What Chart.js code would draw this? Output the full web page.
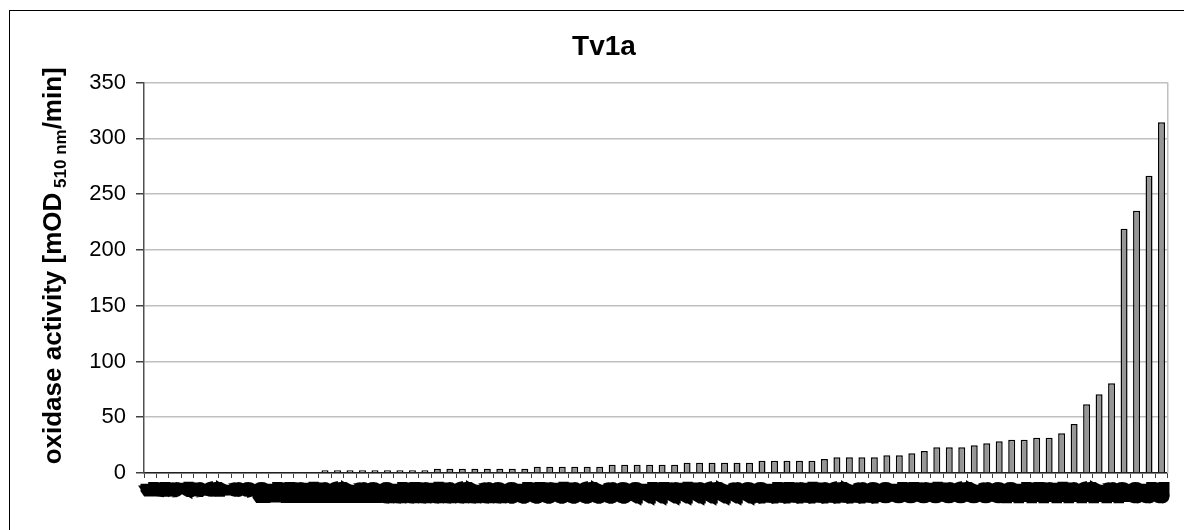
<!DOCTYPE html>
<html lang="en">
<head>
    <meta charset="UTF-8">
    <title>Tv1a</title>
    <script src="https://cdn.jsdelivr.net/npm/chart.js"></script>
    <style>
        html, body { margin: 0; padding: 0; background: #fff; overflow: hidden; }
        #frame { position: absolute; left: 9px; top: 10px; width: 1300px; height: 700px;
                 border-left: 1.5px solid #000; border-top: 1.5px solid #000; }
        #wrap { position: absolute; left: 0; top: 0; width: 1184px; height: 530px; }
    </style>
</head>
<body>
    <div id="frame"></div>
    <div id="wrap"><canvas id="barChart"></canvas></div>

    <script>
        // clone labels (rendered as a dense, unreadable strip in the original)
        var clones = ["1","2","3","4","5","6","7","8","9","10","11","12","13","14","15","16","17","18","19","20",
                      "21","22","23","24","25","26","27","28","29","30","31","32","33","34","35","36","37","38","39","40",
                      "41","42","43","44","45","46","47","48","49","50","51","52","53","54","55","56","57","58","59","60",
                      "61","62","63","64","65","66","67","68","69","70","71","72","73","74","75","76","77","78","79","80",
                      "81","82"];

        // oxidase activity, sorted ascending
        var activity = [0, 0, 0, 0, 0, 0, 0, 0, 0, 0, 0, 0, 0, 0,
                        2.4, 2.4, 2.4, 2.4, 2.4, 2.4, 2.4, 2.4, 2.4,
                        3.9, 3.9, 3.9, 3.9, 3.9, 3.9, 3.9, 3.9,
                        5.7, 5.7, 5.7, 5.7, 5.7, 5.7,
                        7.5, 7.5, 7.5, 7.5, 7.5, 7.5,
                        9.2, 9.2, 9.2, 9.2, 9.2, 9.2,
                        11, 11, 11, 11, 11,
                        12.5, 14.1, 14.1, 14.1, 14.1, 15.9, 15.9, 17.7, 19.7,
                        23.1, 23.1, 23.1, 24.9, 26.7, 28.5, 29.9, 29.9, 31.7, 31.7, 35.6,
                        44, 61.7, 70.6, 80.5, 219, 235, 266.6, 314.5];

        var yTicks = [0, 50, 100, 150, 200, 250, 300, 350];

        // y axis title with subscript, drawn rotated
        var yTitlePlugin = {
            id: 'yTitle',
            afterDraw: function(chart) {
                var ctx = chart.ctx;
                var area = chart.chartArea;
                var parts = [
                    { text: 'oxidase activity [mOD', font: 'bold 26px Arial, "Liberation Sans"', dy: 0 },
                    { text: ' 510 nm', font: 'bold 17px Arial, "Liberation Sans"', dy: 5 },
                    { text: '/min]', font: 'bold 26px Arial, "Liberation Sans"', dy: 0 }
                ];
                ctx.save();
                var total = 0;
                parts.forEach(function(p) { ctx.font = p.font; p.w = ctx.measureText(p.text).width; total += p.w; });
                ctx.translate(61, (area.top + area.bottom) / 2 - 12);
                ctx.rotate(-Math.PI / 2);
                ctx.fillStyle = '#000';
                ctx.textBaseline = 'alphabetic';
                var x = -total / 2;
                parts.forEach(function(p) {
                    ctx.font = p.font;
                    ctx.fillText(p.text, x, p.dy);
                    x += p.w;
                });
                ctx.restore();
            }
        };

        // light grey edge on the right of the plot area
        var plotEdgePlugin = {
            id: 'plotEdge',
            beforeDatasetsDraw: function(chart) {
                var ctx = chart.ctx, a = chart.chartArea;
                ctx.save();
                ctx.strokeStyle = '#c0c0c0';
                ctx.lineWidth = 1.5;
                ctx.beginPath();
                ctx.moveTo(a.right, a.top);
                ctx.lineTo(a.right, a.bottom);
                ctx.stroke();
                ctx.restore();
            }
        };

        function createBarChart() {
            var ctx = document.getElementById('barChart').getContext('2d');
            new Chart(ctx, {
                type: 'bar',
                data: {
                    labels: clones,
                    datasets: [{
                        data: activity,
                        backgroundColor: '#969696',
                        borderColor: '#000000',
                        borderWidth: 1.5,
                        barPercentage: 0.56,
                        categoryPercentage: 1.0
                    }]
                },
                options: {
                    responsive: true,
                    maintainAspectRatio: false,
                    animation: false,
                    layout: { padding: { left: 38, right: 14, top: 0, bottom: 0 } },
                    plugins: {
                        legend: { display: false },
                        tooltip: { enabled: false },
                        title: {
                            display: true,
                            text: 'Tv1a',
                            color: '#000',
                            font: { family: 'Arial, "Liberation Sans"', size: 28, weight: 'bold', lineHeight: 1.2 },
                            padding: { top: 30, bottom: 19 }
                        }
                    },
                    scales: {
                        x: {
                            grid: { display: true, drawOnChartArea: false, drawTicks: true, tickLength: 5,
                                    tickColor: '#404040', offset: true },
                            border: { display: true, color: '#202020', width: 1.5 },
                            ticks: {
                                autoSkip: false, minRotation: 90, maxRotation: 90, padding: 8,
                                color: '#000',
                                textStrokeColor: '#000',
                                textStrokeWidth: 9,
                                font: { family: 'Arial, "Liberation Sans"', size: 12, weight: 'bold' }
                            },
                            afterFit: function(s) { s.height = 57; }
                        },
                        y: {
                            min: 0,
                            max: 350,
                            afterBuildTicks: function(s) { s.ticks = yTicks.map(function(v) { return { value: v }; }); },
                            grid: { color: '#c0c0c0', lineWidth: 1.5, tickLength: 8, tickColor: '#404040' },
                            border: { display: true, color: '#505050', width: 1.5 },
                            ticks: {
                                padding: 10,
                                color: '#000',
                                font: { family: 'Arial, "Liberation Sans"', size: 22 }
                            },
                            afterFit: function(s) { s.width = 106; }
                        }
                    }
                },
                plugins: [yTitlePlugin, plotEdgePlugin]
            });
        }

        createBarChart();
    </script>
</body>
</html>
